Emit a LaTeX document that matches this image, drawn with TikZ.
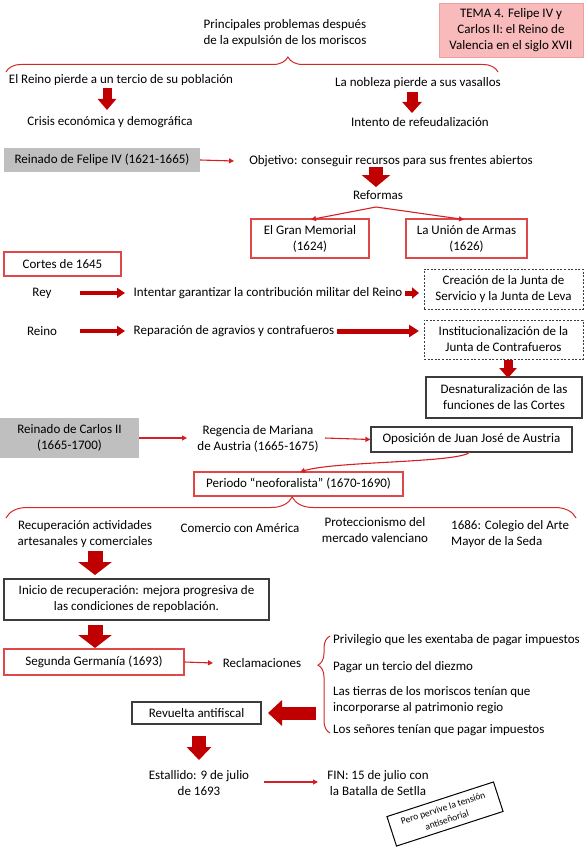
\documentclass[tikz,border=0pt]{standalone}
\usepackage{fontspec}
\setmainfont{Carlito}
\usetikzlibrary{arrows.meta,decorations.pathreplacing}
\definecolor{darkred}{RGB}{192,0,0}
\definecolor{linered}{RGB}{212,32,36}
\definecolor{boxred}{RGB}{222,72,72}
\definecolor{bracered}{RGB}{210,40,40}
\definecolor{titlefill}{RGB}{248,186,186}
\definecolor{titledraw}{RGB}{238,160,160}
\definecolor{greyfill}{RGB}{191,191,191}
\definecolor{darkline}{RGB}{60,60,60}
\begin{document}
\begin{tikzpicture}[x=1pt,y=-1pt,
  txt/.style={font=\fontsize{13}{16}\selectfont, align=center, inner sep=0pt},
  smalltxt/.style={font=\fontsize{9.5}{12.5}\selectfont, align=center, inner sep=0pt},
  redbox/.style={txt, draw=boxred, line width=1.2pt},
  darkbox/.style={txt, draw=darkline, line width=1.2pt},
  dashbox/.style={txt, draw=darkline, line width=1pt, dash pattern=on 2pt off 1.6pt},
  greybox/.style={txt, fill=greyfill},
  thinarrow/.style={draw=linered, line width=1.1pt, -{Triangle[length=5pt,width=5pt]}},
  medarrow/.style={draw=darkred, line width=3.5pt, -{Triangle[length=8pt,width=10pt]}},
  bracestyle/.style={draw=bracered, line width=1pt, decorate}
]
\useasboundingbox (0,0) rectangle (587,848);

% ---------- top ----------
\node[txt, fill=titlefill, draw=titledraw, line width=0.8pt, minimum width=144pt, minimum height=54pt] (title) at (511,30)
  {TEMA 4. Felipe IV y\\Carlos II: el Reino de\\Valencia en el siglo XVII};
\node[txt] (principales) at (285,33) {Principales problemas después\\de la expulsión de los moriscos};
\coordinate (br1a) at (6,72);
\coordinate (br1b) at (498,72);
\draw[bracestyle, decoration={brace, amplitude=15pt, aspect=0.573}] (br1a) -- (br1b);

\node[txt] (pierde) at (121,80) {El Reino pierde a un tercio de su población};
\node[txt] (crisis) at (110,122) {Crisis económica y demográfica};
\node[txt] (nobleza) at (418,83) {La nobleza pierde a sus vasallos};
\node[txt] (intento) at (420,122) {Intento de refeudalización};
\coordinate (a1s) at (107,88); \coordinate (a1e) at (107,110);
\draw[draw=darkred, line width=9pt, -{Triangle[length=11pt,width=18pt]}] (a1s) -- (a1e);
\coordinate (a2s) at (412,92); \coordinate (a2e) at (412,113);
\draw[draw=darkred, line width=11pt, -{Triangle[length=11pt,width=19pt]}] (a2s) -- (a2e);

% ---------- Felipe IV ----------
\node[greybox, minimum width=196pt, minimum height=24pt] (felipe) at (102,160) {Reinado de Felipe IV (1621-1665)};
\node[txt] (objetivo) at (391,161) {Objetivo: conseguir recursos para sus frentes abiertos};
\coordinate (o1) at (234,161);
\draw[thinarrow] (felipe.east) -- (o1);
\coordinate (a3s) at (376,167); \coordinate (a3e) at (376,187);
\draw[draw=darkred, line width=14pt, -{Triangle[length=12pt,width=28pt]}] (a3s) -- (a3e);
\node[txt] (reformas) at (378,195) {Reformas};
\node[redbox, minimum width=118pt, minimum height=39pt] (memorial) at (310,238.5) {El Gran Memorial\\(1624)};
\node[redbox, minimum width=121pt, minimum height=39pt] (union) at (466.5,238.5) {La Unión de Armas\\(1626)};
\coordinate (rf) at (376,207);
\coordinate (m1) at (311,219.5);
\coordinate (u1) at (464,219.5);
\draw[thinarrow] (rf) -- (m1);
\draw[thinarrow] (rf) -- (u1);

% ---------- Cortes de 1645 ----------
\node[redbox, minimum width=117pt, minimum height=24pt] (cortes) at (62.5,264) {Cortes de 1645};
\node[txt] (rey) at (42,293) {Rey};
\node[txt] (intentar) at (268,293) {Intentar garantizar la contribución militar del Reino};
\node[txt] (reino) at (42,331) {Reino};
\node[txt] (reparacion) at (234,331) {Reparación de agravios y contrafueros};
\node[dashbox, minimum width=159pt, minimum height=40pt] (creacion) at (503.5,289) {Creación de la Junta de\\Servicio y la Junta de Leva};
\node[dashbox, minimum width=159pt, minimum height=39pt] (instit) at (503.5,339.5) {Institucionalización de la\\Junta de Contrafueros};
\node[darkbox, minimum width=156pt, minimum height=41pt] (desnat) at (504,397.5) {Desnaturalización de las\\funciones de las Cortes};
\coordinate (r1s) at (80,293); \coordinate (r1e) at (125,293);
\coordinate (r2s) at (80,331); \coordinate (r2e) at (125,331);
\draw[medarrow] (r1s) -- (r1e);
\draw[medarrow] (r2s) -- (r2e);
\coordinate (i1s) at (405,293); \coordinate (i1e) at (419,293);
\draw[draw=darkred, line width=5pt, -{Triangle[length=7pt,width=11pt]}] (i1s) -- (i1e);
\coordinate (i2s) at (337,331); \coordinate (i2e) at (419,331);
\draw[draw=darkred, line width=5pt, -{Triangle[length=10pt,width=12pt]}] (i2s) -- (i2e);
\coordinate (a4s) at (508,359.5); \coordinate (a4e) at (508,378);
\draw[draw=darkred, line width=9pt, -{Triangle[length=10pt,width=17pt]}] (a4s) -- (a4e);

% ---------- Carlos II ----------
\node[greybox, minimum width=139pt, minimum height=40pt] (carlos) at (69.5,438) {Reinado de Carlos II\\(1665-1700)};
\node[txt] (regencia) at (258,439) {Regencia de Mariana\\de Austria (1665-1675)};
\node[darkbox, minimum width=201pt, minimum height=25pt] (oposicion) at (471.5,439.5) {Oposición de Juan José de Austria};
\node[redbox, minimum width=209pt, minimum height=24pt] (periodo) at (298.5,484) {Periodo “neoforalista” (1670-1690)};
\coordinate (c1) at (187,438);
\draw[thinarrow] (carlos.east) -- (c1);
\coordinate (c2) at (325,438);
\draw[thinarrow] (c2) -- (oposicion.west);
\coordinate (op1) at (470,452);
\coordinate (pe1) at (300,472);
\draw[thinarrow] (op1) .. controls (460,463) and (335,461) .. (pe1);
\coordinate (br2a) at (6,518);
\coordinate (br2b) at (576,518);
\draw[bracestyle, decoration={brace, amplitude=21pt, aspect=0.502}] (br2a) -- (br2b);
\node[txt] (recup) at (85,534) {Recuperación actividades\\artesanales y comerciales};
\node[txt] (comercio) at (240,528) {Comercio con América};
\node[txt] (protec) at (375,530.5) {Proteccionismo del\\mercado valenciano};
\node[txt, align=left, anchor=west] (colegio) at (451,534.5) {1686: Colegio del Arte\\Mayor de la Seda};

% ---------- recuperación / germanía ----------
\coordinate (a5s) at (95,551); \coordinate (a5e) at (95,575);
\draw[draw=darkred, line width=15pt, -{Triangle[length=13pt,width=33pt]}] (a5s) -- (a5e);
\node[darkbox, minimum width=265pt, minimum height=41pt] (inicio) at (136.5,599.5) {Inicio de recuperación: mejora progresiva de\\las condiciones de repoblación.};
\coordinate (a6s) at (95,625); \coordinate (a6e) at (95,648);
\draw[draw=darkred, line width=15pt, -{Triangle[length=13pt,width=33pt]}] (a6s) -- (a6e);
\node[redbox, minimum width=180pt, minimum height=26pt] (segunda) at (94,662) {Segunda Germanía (1693)};
\node[txt] (reclam) at (262,663) {Reclamaciones};
\coordinate (s1) at (213,663);
\draw[thinarrow] (segunda.east) -- (s1);
\coordinate (br3a) at (330,733);
\coordinate (br3b) at (330,636);
\draw[bracestyle, decoration={brace, amplitude=12pt, aspect=0.70}] (br3a) -- (br3b);
\node[txt, anchor=west] (privilegio) at (333,640) {Privilegio que les exentaba de pagar impuestos};
\node[txt, anchor=west] (pagar) at (333,667) {Pagar un tercio del diezmo};
\node[txt, anchor=west, align=left] (tierras) at (333,700) {Las tierras de los moriscos tenían que\\incorporarse al patrimonio regio};
\node[txt, anchor=west] (senores) at (333,730) {Los señores tenían que pagar impuestos};
\node[darkbox, minimum width=129pt, minimum height=22pt] (revuelta) at (196.5,713) {Revuelta antifiscal};
\coordinate (a7s) at (316,713);
\coordinate (a7e) at (268,713);
\draw[draw=darkred, line width=13pt, -{Triangle[length=14pt,width=25pt]}] (a7s) -- (a7e);
\coordinate (a8s) at (199,736); \coordinate (a8e) at (199,760);
\draw[draw=darkred, line width=14pt, -{Triangle[length=13pt,width=24pt]}] (a8s) -- (a8e);
\node[txt] (estallido) at (199,783) {Estallido: 9 de julio\\de 1693};
\node[txt] (fin) at (378,783.5) {FIN: 15 de julio con\\la Batalla de Setlla};
\coordinate (e1) at (264,782);
\coordinate (e2) at (318,782);
\draw[thinarrow] (e1) -- (e2);
\node[smalltxt, draw=black, line width=1pt, minimum width=112pt, minimum height=31pt, rotate=18, fill=white] (pervive) at (445,814) {Pero pervive la tensión\\antiseñorial};
\end{tikzpicture}
\end{document}
